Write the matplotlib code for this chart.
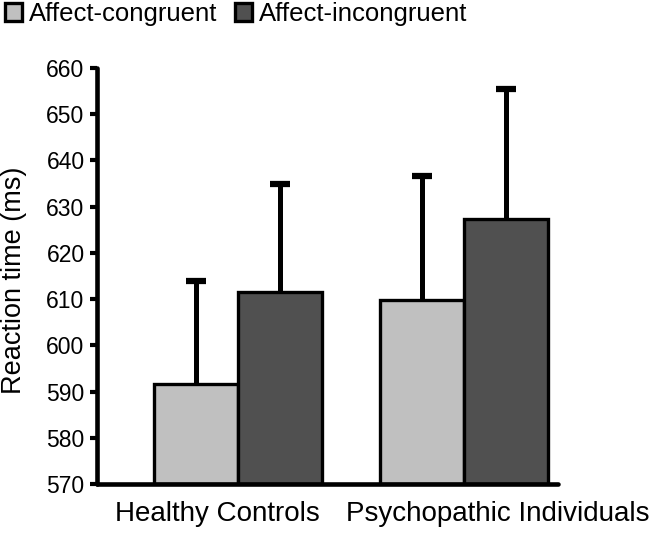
import matplotlib
matplotlib.use("Agg")
import matplotlib.pyplot as plt
import matplotlib.transforms as mtransforms
import numpy as np

groups = ["Healthy Controls", "Psychopathic Individuals"]
series_names = ["Affect-congruent", "Affect-incongruent"]
congruent = [591.6, 609.8]
incongruent = [611.6, 627.4]
congruent_err = [22.3, 26.9]
incongruent_err = [23.3, 28.1]
yticks = [570, 580, 590, 600, 610, 620, 630, 640, 650, 660]

plt.rcParams['font.family'] = ['Liberation Sans', 'DejaVu Sans']

fig = plt.figure(figsize=(6.56, 5.37), dpi=100)
ax = fig.add_axes([97/656, 1-484/537, (558-97)/656, (484-68)/537])

x = np.arange(len(groups))
w = 0.372
colors = ["#c0c0c0", "#505050"]
bars = []
for off, vals, errs, col, name in [(-w/2, congruent, congruent_err, colors[0], series_names[0]),
                                   (w/2, incongruent, incongruent_err, colors[1], series_names[1])]:
    vals = np.array(vals)
    errs = np.array(errs)
    xs = x + off
    ax.errorbar(xs, vals, yerr=[np.zeros_like(errs), errs], fmt='none',
                ecolor='black', elinewidth=3.6, capsize=0, zorder=1)
    ax.plot(xs, vals + errs, linestyle='none', marker='_', markersize=14,
            markeredgewidth=4.5, color='black', zorder=1)
    b = ax.bar(xs, vals - 570, w, bottom=570, color=col, edgecolor='black',
               linewidth=2.4, label=name, zorder=2)
    bars.append(b)

ax.set_xlim(-0.624, 1.416)
ax.set_ylim(570, 660)
ax.set_yticks(yticks)
ax.set_yticklabels([str(t) for t in yticks], fontsize=16.5)
ax.set_xticks(x)
ax.set_xticklabels(groups, fontsize=20)
ax.tick_params(axis='x', length=0, pad=12)
ax.tick_params(axis='y', width=3, length=5, direction='out', pad=4)
# shift x labels as in reference
offs = [-20.5, 34]
for lab, o in zip(ax.get_xticklabels(), offs):
    lab.set_transform(lab.get_transform() + mtransforms.ScaledTranslation(o/100, 0, fig.dpi_scale_trans))
ax.set_ylabel("Reaction time (ms)", fontsize=19.5)
ax.yaxis.set_label_coords(-0.152, 0.49)
for s in ["top", "right"]:
    ax.spines[s].set_visible(False)
for s in ["left", "bottom"]:
    ax.spines[s].set_linewidth(3.3)
    ax.spines[s].set_capstyle('round')

fig.legend(handles=bars, labels=series_names, loc="upper left",
           bbox_to_anchor=(5/656, 0.996), ncol=2, frameon=False,
           prop={'size': 18.5},
           handlelength=0.66, handleheight=0.66, handletextpad=0.27,
           columnspacing=0.7, borderaxespad=0, borderpad=0)

fig.savefig("out.png", dpi=100)
